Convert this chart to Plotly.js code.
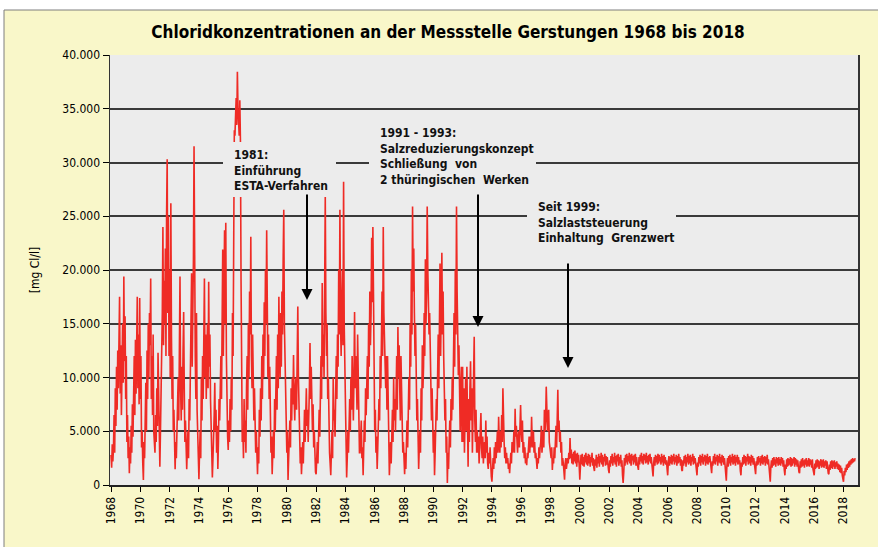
<!DOCTYPE html>
<html><head><meta charset="utf-8">
<script src="https://cdn.plot.ly/plotly-3.0.1.min.js"></script>
<style>html,body{margin:0;padding:0;background:#fff;}</style>
</head><body>
<div id="chart" style="width:878px;height:547px;"></div>
<script>
// Chloride concentration [mg Cl/l], Gerstungen, 24 samples per year starting 1968.0
const startYear = 1968;
const samplesPerYear = 24;

const conc_1968_1972 = [
2800,1600,3800,2200,3400,6500,3000,9000,5500,11000,7000,12500,9000,14500,17500,8500,13000,6500,11000,15000,9500,19400,11500,15700,
8000,12000,4000,6500,2500,4500,1100,3500,2000,5500,3000,7500,4500,9000,12000,6500,13500,8500,15500,17500,9000,14000,7500,17400,
8000,12000,3500,5000,2000,460,4000,2500,6000,9500,5000,12500,8000,15000,10000,16000,13000,19200,8000,12000,6500,14000,5000,3000,
3000,6500,4000,9000,5500,12300,7000,3500,1700,5000,8500,10000,16000,24000,13000,19000,15000,22000,12000,25000,30300,16000,25000,12000,
20000,10000,26200,14000,8000,12000,5000,7000,3000,1460,4000,2500,5000,8000,10000,6000,14000,19400,9000,6000,11000,7000,12500,16100];

const conc_1973_1977 = [
9000,4000,6000,2500,1460,3500,5000,2500,8000,6000,12000,15000,19700,11000,15000,21000,31500,18000,12000,8000,16000,7000,4000,2000,
540,3000,5000,2500,10000,6000,12000,8000,15000,19200,10000,14000,8000,12000,15000,9000,18900,11000,14000,8000,5000,3000,700,2500,
4000,6500,9500,5000,7000,3000,5500,1500,4000,8000,6000,10000,12000,8000,14000,21900,12000,17000,23700,15000,24400,12000,6000,4500,
3250,6000,4000,8000,5000,10000,7000,16000,12000,24000,33000,32500,34000,36000,33500,38450,35000,33000,32500,35800,32000,19000,8000,4000,
5000,2500,8000,4000,6000,3000,9000,12000,7000,15000,10000,18000,14000,23100,12000,9000,14000,10000,6000,9000,4000,3000,5000,1500];

const conc_1978_1982 = [
1000,3500,2000,7000,4500,9000,6000,12000,8000,14000,10000,17000,12000,20000,15000,23700,11000,10000,14000,8000,11000,6000,3000,4500,
1000,3000,5000,2500,8000,5000,10000,12000,7000,14000,9000,17500,12000,10000,16000,11000,18000,14000,21000,25600,15000,12000,6000,3000,
3000,5000,460,2500,4000,6000,3500,9000,6000,10000,7500,12100,8000,6000,9000,10000,7000,12000,16600,10000,8000,5000,2000,3500,
1000,2500,4000,2000,5000,7000,4000,8000,9000,5500,7000,4000,6000,9000,13200,8000,11000,7000,5000,7500,3500,5000,2000,1200,
1000,3000,4000,2000,5500,7000,4500,10000,12000,8000,18800,11000,14000,10000,22000,26900,16000,12000,15000,8000,10000,5000,3000,2000];

const conc_1983_1987 = [
900,3000,5000,2500,10000,6000,7000,4500,9000,12000,8000,14000,11000,20000,14000,25600,15000,12000,17000,20000,13000,28200,15000,10000,
6000,3000,700,2500,5000,3000,6000,8000,5000,10000,7000,12000,9000,6000,10000,16100,9000,12000,10000,7000,14000,8000,5000,3000,
3000,4500,6000,2500,3500,900,3000,6000,4000,9000,6500,10000,12000,8000,15000,11000,18000,13000,16000,23000,17000,24000,14000,8000,
5000,7000,3000,4500,1500,3500,5000,8000,6000,12000,9000,15000,18000,12000,24000,16000,14000,10000,9000,12000,7000,12000,6000,4000,
900,2500,4000,2000,5000,7000,4000,10000,6000,8000,5000,9000,12000,7000,14700,10000,13000,9000,6000,12000,8000,5000,3000,4000];

const conc_1988_1992 = [
2000,1000,3000,1500,4000,6000,3500,8000,10000,7000,15000,11000,20000,14000,25900,18000,22000,16000,12000,15000,9000,6000,8000,3000,
1500,3500,5000,3000,9000,6000,13000,9000,11000,16000,12000,21000,15000,18000,25900,20000,18000,14000,16000,12000,8000,6000,9000,3000,
3000,5000,900,3000,5000,8000,6000,10000,14000,9000,15000,20600,12000,15000,21600,14000,18000,12000,9000,6000,8000,3000,4500,190,
3000,1500,4000,6000,3500,8000,6000,10000,7000,12000,16000,11000,20000,14000,25900,18000,14000,10200,13000,7000,5000,9000,11000,4000,
11000,4000,9000,3000,6000,10000,5000,11000,6000,1700,8000,4000,9000,11500,6000,9000,3000,7000,10000,13800,6000,4000,7000,3000];

const conc_1993_1997 = [
5100,3000,4500,2000,3500,6000,6700,3500,2500,4500,2000,3500,4000,2500,6000,3000,4500,2000,1500,3000,2000,3500,1500,800,
300,2000,2500,1500,3500,2000,4000,2500,3500,5000,3000,6350,4000,3000,5000,3500,6500,4000,9000,5000,4000,2500,3500,2000,
3000,2000,2500,1500,2000,1100,2500,3000,2000,4000,3000,3500,5000,3000,7100,4500,5500,3500,3000,4500,5000,3500,6000,7440,
5000,4000,6000,3000,4000,2500,3500,2000,2500,1850,3000,2500,3500,4500,3000,4500,3500,6350,4000,3500,5000,3000,4000,2500,
3000,2000,1500,2500,2000,3500,2500,3500,4000,5500,3000,4000,5000,3500,7000,5000,6000,9150,5500,5000,6500,7000,4000,3000];

const conc_1998_2002 = [
3000,2500,3500,1400,2500,2000,3500,2500,4500,5500,3500,6500,8870,5000,6000,4000,5000,3000,4000,1800,2500,2000,1500,500,
2000,2500,1500,2200,2500,2000,3000,2400,4380,2500,3300,2000,2900,1900,3100,2200,3200,2000,2900,1700,3000,2100,2800,1800,
500,1700,2800,1900,2900,1800,2600,1700,2800,2100,3000,1900,2700,1800,2900,2000,2800,1700,2600,2100,3000,1800,2500,1600,
1300,2400,1800,2800,1600,2600,2000,2900,1700,2700,2100,3000,1900,2800,1700,2600,2200,2900,1800,2700,1900,2600,1700,1400,
1100,2300,1700,2700,2000,2900,1800,2600,2100,3000,1900,2700,1700,2800,2200,2900,1800,2600,2000,2800,1700,2300,900,190];

const conc_2003_2007 = [
1200,2500,1800,2800,2100,2900,1900,2700,2200,3000,2000,2800,1800,2900,2300,2700,1900,2800,2100,2900,1800,2600,2000,1500,
1400,2600,1900,2800,2200,3000,2000,2700,1900,2900,2300,2800,2000,3000,2100,2700,1900,2800,2200,2900,2000,2600,1800,1300,
800,2000,2600,1800,2800,2100,2700,1900,2900,2000,2800,2200,2600,1900,2900,2100,2700,1800,2800,2000,2600,1900,2300,1500,
900,2100,2700,1800,2600,2000,2800,1900,2700,2200,2900,1900,2600,2100,2800,1800,2700,2000,2900,2100,2600,1800,2400,1400,
1300,2300,1800,2700,2000,2800,1700,2600,2100,2900,1900,2700,2000,2800,1800,2600,2200,2900,1900,2700,2000,2500,1700,1200];

const conc_2008_2012 = [
900,2100,1700,2600,2000,2800,1800,2700,2100,2900,1900,2600,2200,2800,1800,2700,2000,2900,1900,2600,2100,2700,1800,1400,
1100,2200,1800,2700,2000,2900,1900,2600,2200,2800,1800,2700,2100,2900,2000,2600,1800,2800,2100,2700,1900,2500,1600,1000,
400,1800,2500,1700,2700,2000,2800,1800,2600,2100,2900,1900,2700,2000,2800,1800,2600,2100,2800,1900,2600,2000,2300,1300,
900,2100,1700,2600,1900,2800,2000,2700,1800,2600,2200,2900,1900,2700,2000,2600,1800,2800,2100,2700,1900,2500,1700,1300,
1000,2200,1800,2600,1900,2700,2100,2500,1800,2700,2000,2800,1900,2600,2100,2700,1800,2600,2000,2800,1900,2400,1600,900];

const conc_2013_2018 = [
300,1700,2300,1600,2500,1800,2600,1900,2400,1700,2600,2000,2500,1800,2600,1900,2400,1800,2600,2000,2500,1700,2300,1400,
900,1900,1500,2400,1700,2500,1800,2400,1900,2600,1700,2500,1800,2400,2000,2600,1700,2500,1900,2400,1700,2300,1600,1200,
1100,2200,1600,2400,1700,2500,1800,2300,1600,2400,1900,2500,1700,2300,1800,2500,1700,2400,1900,2300,1600,2400,1500,1200,
900,2000,1500,2300,1600,2400,1700,2300,1500,2200,1800,2400,1600,2300,1700,2400,1600,2200,1800,2300,1500,2200,1400,1100,
1000,1900,1400,2200,1600,2300,1500,2200,1700,2300,1500,2100,1700,2200,1500,2000,1400,1900,1200,1800,1100,1600,900,700,
300,1300,900,1600,1200,1900,1400,2000,1600,2200,1700,2300,1900,2400,2000,2500,2100,2400,2200,2500];

const tickYears = [1968,1970,1972,1974,1976,1978,1980,1982,1984,1986,1988,1990,1992,1994,1996,1998,2000,2002,2004,2006,2008,2010,2012,2014,2016,2018];
const yTickValues = [0,5000,10000,15000,20000,25000,30000,35000,40000];

const titleText = 'Chloridkonzentrationen an der Messstelle Gerstungen 1968 bis 2018';
const yTitleText = '[mg Cl/l]';
const note1981 = '1981:<br>Einführung<br>ESTA-Verfahren';
const note1991 = '1991 - 1993:<br>Salzreduzierungskonzept<br>Schließung\u00a0 von<br>2 thüringischen\u00a0 Werken';
const note1999 = 'Seit 1999:<br>Salzlaststeuerung<br>Einhaltung\u00a0 Grenzwert';

// ---- build ----
const values = [].concat(conc_1968_1972, conc_1973_1977, conc_1978_1982, conc_1983_1987,
  conc_1988_1992, conc_1993_1997, conc_1998_2002, conc_2003_2007, conc_2008_2012, conc_2013_2018);
const years = values.map((v, i) => startYear + i / samplesPerYear);

const W = 878, H = 547, ML = 110, MR = 20, MT = 55, MB = 62;
const PW = W - ML - MR, PH = H - MT - MB;
const px = x => (x - ML) / PW;           // pixel -> paper x
const py = y => (H - MB - y) / PH;       // pixel -> paper y

const FONT = 'DejaVu Sans Condensed, DejaVu Sans, sans-serif';
const noteFont = {family: FONT, size: 12, color: '#111', weight: 'bold'};
const CREAM = '#f9f7c9';
const PLOTBG = '#ececec';

function box(x0, x1, yTop, yBot) {
  return {type: 'rect', xref: 'paper', yref: 'paper', layer: 'above',
    x0: px(x0), x1: px(x1), y0: py(yBot), y1: py(yTop),
    fillcolor: PLOTBG, line: {width: 0}};
}
function strip(x0, x1, yTop, yBot, color) {
  return {type: 'rect', xref: 'paper', yref: 'paper', layer: 'below',
    x0: px(x0), x1: px(x1), y0: py(yBot), y1: py(yTop),
    fillcolor: color, line: {width: 0}};
}
function note(text, xLeft, yTop) {
  return {xref: 'paper', yref: 'paper', x: px(xLeft), y: py(yTop), xanchor: 'left', yanchor: 'top',
    align: 'left', text: text, showarrow: false, font: noteFont, borderpad: 0};
}
function arrow(x, yTip, yTail) {
  return {xref: 'paper', yref: 'paper', x: px(x), y: py(yTip), ax: 0, ay: -(yTip - yTail),
    text: '', showarrow: true, arrowhead: 2, arrowsize: 1.1, arrowwidth: 2, arrowcolor: '#000', standoff: 0, startstandoff: 0};
}

const trace = {
  x: years, y: values, type: 'scatter', mode: 'lines',
  line: {color: '#ef2b25', width: 1.6}, hoverinfo: 'skip'
};

const layout = {
  width: W, height: H,
  margin: {l: ML, r: MR, t: MT, b: MB, pad: 0},
  paper_bgcolor: CREAM,
  plot_bgcolor: PLOTBG,
  separators: ',.',
  showlegend: false,
  font: {family: FONT, size: 12, color: '#000'},
  title: {text: titleText, font: {family: FONT, size: 17, color: '#000', weight: 'bold'},
    xref: 'container', x: 448 / W, xanchor: 'center', yref: 'container', y: 1 - 32 / H, yanchor: 'middle'},
  xaxis: {
    range: [1967.93, 2018.99], tickmode: 'array', tickvals: tickYears, ticktext: tickYears.map(String),
    tickangle: -90, ticks: 'outside', ticklen: 5, tickwidth: 1, tickcolor: '#000',
    tickfont: {family: FONT, size: 12, color: '#000'},
    showgrid: false, zeroline: false, showline: true, linecolor: '#222', linewidth: 2
  },
  yaxis: {
    range: [0, 40000], tickmode: 'array', tickvals: yTickValues, tickformat: ',d',
    ticks: 'outside', ticklen: 6, tickwidth: 1, tickcolor: '#000',
    tickfont: {family: FONT, size: 12, color: '#000'},
    showgrid: true, gridcolor: '#3a3a3a', gridwidth: 2, zeroline: false,
    showline: true, linecolor: '#333', linewidth: 1.5, mirror: true,
    title: {text: yTitleText, font: {family: FONT, size: 12, color: '#000'}, standoff: 20}
  },
  shapes: [
    strip(-2, 884, -2, 10, '#ffffff'),
    strip(-2, 4, -2, 552, '#ffffff'),
    {type: 'rect', xref: 'paper', yref: 'paper', layer: 'below',
      x0: px(4), x1: px(884), y0: py(552), y1: py(10),
      fillcolor: 'rgba(0,0,0,0)', line: {color: '#7f7f7f', width: 1}},
    box(223, 336, 142, 197),
    box(369, 536, 118, 192),
    box(527, 676, 198, 247)
  ],
  annotations: [
    note(note1981, 233, 147),
    note(note1991, 379, 125),
    note(note1999, 537, 199),
    arrow(307, 300, 193),
    arrow(478, 327, 193),
    arrow(568, 368, 262)
  ]
};

Plotly.newPlot('chart', [trace], layout, {displayModeBar: false, staticPlot: true});
</script>
</body></html>
